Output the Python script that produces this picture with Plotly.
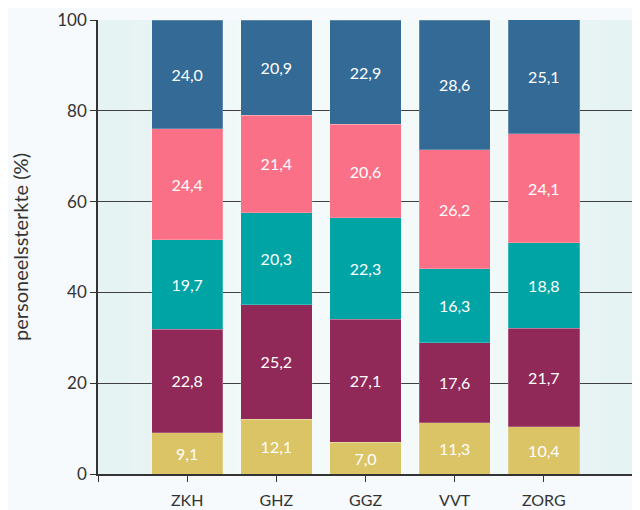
import plotly.graph_objects as go

categories = ["ZKH", "GHZ", "GGZ", "VVT", "ZORG"]
series_names = ["s1", "s2", "s3", "s4", "s5"]
s1 = [9.1, 12.1, 7.0, 11.3, 10.4]
s2 = [22.8, 25.2, 27.1, 17.6, 21.7]
s3 = [19.7, 20.3, 22.3, 16.3, 18.8]
s4 = [24.4, 21.4, 20.6, 26.2, 24.1]
s5 = [24.0, 20.9, 22.9, 28.6, 25.1]
colors = ["#dbc466", "#912958", "#00a4a5", "#fa7087", "#336b96"]
y_ticks = [0, 20, 40, 60, 80, 100]

xpos = list(range(len(categories)))
fig = go.Figure()
for name, vals, col in zip(series_names, [s1, s2, s3, s4, s5], colors):
    fig.add_trace(go.Bar(
        x=xpos, y=vals, name=name,
        marker=dict(color=col, line=dict(width=0.6, color="rgba(255,255,255,0.35)")),
        width=0.8,
        texttemplate="%{y:.1f}", textposition="inside", insidetextanchor="middle",
        textfont=dict(color="white", size=16, family="Lato"),
        hoverinfo="skip",
    ))

# background gradient (stepwise, lighter toward centre)
shapes = []
steps = 8
for i in range(steps):
    f = (i + 1) / (steps + 1)
    shapes.append(dict(type="rect", xref="paper", yref="paper",
                       x0=0.02 + 0.36 * f, x1=0.98 - 0.36 * f, y0=0.0, y1=1.0,
                       fillcolor="white", opacity=0.13, line=dict(width=0), layer="below"))

fig.update_layout(
    barmode="stack",
    width=632, height=502,
    margin=dict(l=90, r=7, t=12, b=36),
    paper_bgcolor="#f6fafc",
    plot_bgcolor="#e5f3f3",
    separators=",.",
    showlegend=False,
    shapes=shapes,
    font=dict(family="Lato", color="#333333"),
    xaxis=dict(
        range=[-1, 5], tickvals=[-1] + xpos + [5], ticktext=[""] + categories + [""],
        showgrid=False, zeroline=False, showline=True, linecolor="#333333", linewidth=1.5,
        ticks="outside", ticklen=6, tickcolor="#333333", tickfont=dict(size=16, color="#333333"),
        ticklabelstandoff=5, automargin=False,
    ),
    yaxis=dict(
        range=[0, 100], tickvals=y_ticks, showgrid=True, gridcolor="#404040", gridwidth=1,
        zeroline=False, showline=True, linecolor="#333333", linewidth=1.5,
        ticks="outside", ticklen=6, tickcolor="#333333", tickfont=dict(size=17, color="#333333"),
        title=dict(text="personeelssterkte (%)", font=dict(size=20, color="#333333"), standoff=32),
        automargin=False,
    ),
)
fig.write_html("out.html")
